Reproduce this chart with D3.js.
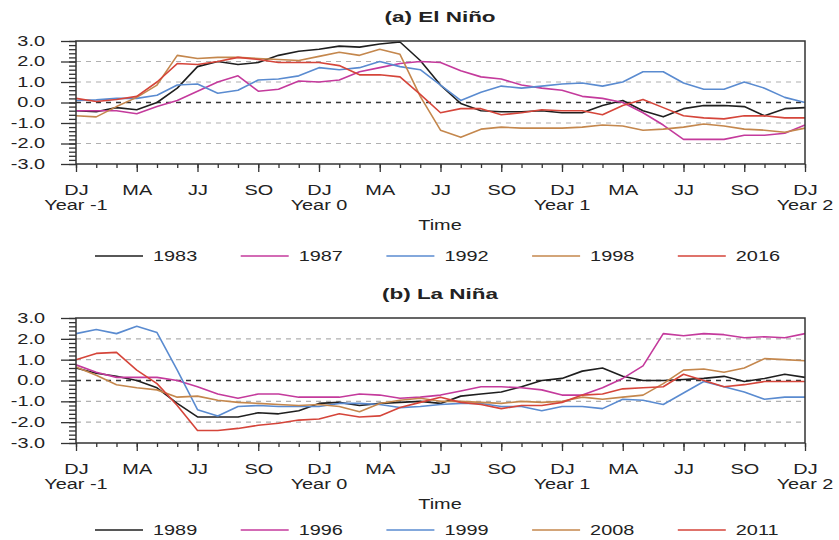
<!DOCTYPE html>
<html>
<head>
<meta charset="utf-8">
<script src="https://cdn.jsdelivr.net/npm/d3@7"></script>
<style>
  body { margin: 0; background: #fff; }
  text { font-family: "Liberation Sans", Arial, sans-serif; fill: #222; }
</style>
</head>
<body>
<svg id="chart" width="839" height="540"></svg>
<script>
// x = month index from DJ Year -1 (0) to DJ Year 2 (36)
const months = d3.range(37);
const seasonLabels = ["DJ", "MA", "JJ", "SO", "DJ", "MA", "JJ", "SO", "DJ", "MA", "JJ", "SO", "DJ"];
const seasonTicks = [0, 3, 6, 9, 12, 15, 18, 21, 24, 27, 30, 33, 36];
const yearLabels = ["Year -1", "Year 0", "Year 1", "Year 2"];
const yearTicks = [0, 12, 24, 36];
const yTicks = [-3, -2, -1, 0, 1, 2, 3];

const seriesColors = ["#1f1f1f", "#c43a9c", "#5a8bd0", "#c4874d", "#d5453a"];

// (a) El Nino
const ninoYears = ["1983", "1987", "1992", "1998", "2016"];
const nino1983 = [-0.4, -0.45, -0.25, -0.35, 0.0, 0.7, 1.75, 2.0, 1.85, 1.95, 2.3, 2.5, 2.6, 2.75, 2.7, 2.85, 2.95,
  2.05, 0.85, -0.05, -0.4, -0.45, -0.45, -0.4, -0.5, -0.5, -0.15, 0.1, -0.4, -0.7, -0.3, -0.15, -0.15, -0.2, -0.65, -0.3, -0.25];
const nino1987 = [-0.4, -0.4, -0.4, -0.55, -0.2, 0.1, 0.55, 1.0, 1.3, 0.55, 0.65, 1.05, 1.0, 1.1, 1.5, 1.7, 1.9,
  2.0, 1.95, 1.55, 1.25, 1.15, 0.85, 0.7, 0.6, 0.3, 0.2, 0.0, -0.5, -1.1, -1.8, -1.8, -1.8, -1.6, -1.6, -1.5, -1.1];
const nino1992 = [0.1, 0.13, 0.2, 0.2, 0.35, 0.85, 0.9, 0.45, 0.6, 1.1, 1.15, 1.3, 1.7, 1.6, 1.7, 2.0, 1.75,
  1.6, 0.85, 0.1, 0.5, 0.8, 0.7, 0.8, 0.9, 0.95, 0.8, 1.0, 1.5, 1.5, 0.95, 0.65, 0.65, 1.0, 0.7, 0.25, 0.0];
const nino1998 = [-0.65, -0.7, -0.2, 0.25, 0.85, 2.3, 2.15, 2.2, 2.2, 2.15, 2.1, 2.05, 2.25, 2.45, 2.3, 2.6, 2.35,
  0.3, -1.35, -1.7, -1.3, -1.2, -1.25, -1.25, -1.25, -1.2, -1.1, -1.15, -1.35, -1.3, -1.2, -1.05, -1.15, -1.3, -1.35, -1.45, -1.25];
const nino2016 = [0.2, 0.05, 0.15, 0.3, 1.0, 1.9, 1.85, 2.0, 2.2, 2.1, 1.95, 1.95, 1.95, 1.8, 1.35, 1.35, 1.25,
  0.4, -0.5, -0.3, -0.3, -0.6, -0.5, -0.35, -0.4, -0.4, -0.6, -0.15, 0.15, -0.25, -0.65, -0.75, -0.8, -0.65, -0.65, -0.75, -0.75];

// (b) La Nina
const ninaYears = ["1989", "1996", "1999", "2008", "2011"];
const nina1989 = [0.6, 0.35, 0.2, 0.0, -0.35, -1.1, -1.75, -1.75, -1.75, -1.55, -1.6, -1.45, -1.1, -1.05, -1.2, -1.1, -1.05,
  -1.0, -1.1, -0.75, -0.65, -0.55, -0.3, 0.0, 0.1, 0.45, 0.6, 0.2, 0.0, 0.0, 0.05, 0.1, 0.2, -0.05, 0.1, 0.3, 0.15];
const nina1996 = [0.75, 0.4, 0.15, 0.15, 0.15, 0.0, -0.3, -0.65, -0.85, -0.65, -0.65, -0.8, -0.8, -0.8, -0.65, -0.7, -0.85,
  -0.8, -0.7, -0.5, -0.3, -0.3, -0.35, -0.45, -0.7, -0.7, -0.35, 0.1, 0.7, 2.25, 2.15, 2.25, 2.2, 2.05, 2.1, 2.05, 2.25];
const nina1999 = [2.25, 2.45, 2.25, 2.6, 2.3, 0.5, -1.4, -1.7, -1.25, -1.2, -1.25, -1.25, -1.25, -1.1, -1.1, -1.15, -1.3,
  -1.25, -1.15, -1.1, -1.1, -1.25, -1.25, -1.45, -1.25, -1.25, -1.35, -0.9, -0.95, -1.15, -0.6, -0.05, -0.3, -0.55, -0.9, -0.8, -0.8];
const nina2008 = [0.65, 0.25, -0.2, -0.35, -0.45, -0.8, -0.75, -0.95, -1.05, -1.1, -1.15, -1.2, -1.15, -1.25, -1.5, -1.1, -0.95,
  -0.85, -1.0, -1.0, -1.05, -1.1, -1.0, -1.05, -1.0, -0.8, -0.9, -0.8, -0.7, -0.15, 0.5, 0.55, 0.4, 0.6, 1.05, 1.0, 0.95];
const nina2011 = [1.0, 1.3, 1.35, 0.5, -0.15, -1.2, -2.4, -2.4, -2.3, -2.15, -2.05, -1.9, -1.85, -1.6, -1.75, -1.7, -1.3,
  -1.05, -0.8, -1.05, -1.15, -1.35, -1.2, -1.2, -1.05, -0.7, -0.65, -0.4, -0.35, -0.3, 0.3, 0.0, -0.3, -0.2, -0.05, -0.05, -0.05];

const svg = d3.select('#chart');
const stretch = 1.42;   // the source figure is stretched sideways
const left = 76, right = 805;

const x = d3.scaleLinear().domain([0, 36]).range([left, right]);

function label(g, px, py, str, size, anchor, bold, k) {
  return g.append('text')
    .attr('transform', `translate(${px},${py}) scale(${k || stretch},1)`)
    .attr('text-anchor', anchor)
    .style('font-size', size + 'px')
    .style('font-weight', bold ? 'bold' : 'normal')
    .text(str);
}

function drawPanel(p) {
  const y = d3.scaleLinear().domain([-3, 3]).range([p.bottom, p.top]);
  const g = svg.append('g');

  label(g, 440, p.top - 19, p.title, 15, 'middle', true, 1.5);

  // grid lines
  g.selectAll('.grid').data([-2, -1, 0, 1, 2]).join('line')
    .attr('x1', left).attr('x2', right)
    .attr('y1', d => y(d)).attr('y2', d => y(d))
    .attr('stroke', d => d === 0 ? '#333' : '#b0b0b0')
    .attr('stroke-width', d => d === 0 ? 1.3 : 1.1)
    .attr('stroke-dasharray', '5,5');

  // series
  const line = d3.line().x((d, i) => x(months[i])).y(d => y(d));
  g.selectAll('.series').data(p.series).join('path')
    .attr('d', d => line(d))
    .attr('fill', 'none')
    .attr('stroke', (d, i) => seriesColors[i])
    .attr('stroke-width', 1.6)
    .attr('stroke-linejoin', 'round');

  // frame
  g.append('rect')
    .attr('x', left).attr('y', p.top)
    .attr('width', right - left).attr('height', p.bottom - p.top)
    .attr('fill', 'none').attr('stroke', '#333').attr('stroke-width', 1.5);

  // y axis, minor + major
  const yMinor = g.append('g').attr('transform', `translate(${left},0)`)
    .call(d3.axisLeft(y).tickValues(d3.range(-30, 31, 2).map(v => v / 10)).tickSize(7).tickSizeOuter(0).tickFormat(''));
  const yMajor = g.append('g').attr('transform', `translate(${left},0)`)
    .call(d3.axisLeft(y).tickValues(yTicks).tickSize(15).tickSizeOuter(0).tickFormat(d => d.toFixed(1)));
  [yMinor, yMajor].forEach(a => {
    a.select('.domain').remove();
    a.selectAll('line').attr('stroke', '#333').attr('stroke-width', 1.3);
  });
  yMajor.selectAll('text')
    .attr('x', -31 / stretch)
    .attr('transform', `scale(${stretch},1)`)
    .style('font-size', '14px').style('font-family', '"Liberation Sans", Arial, sans-serif').attr('fill', '#222');

  // x axis, minor + major
  const xMinor = g.append('g').attr('transform', `translate(0,${p.bottom})`)
    .call(d3.axisBottom(x).tickValues(months).tickSize(4).tickSizeOuter(0).tickFormat(''));
  const xMajor = g.append('g').attr('transform', `translate(0,${p.bottom})`)
    .call(d3.axisBottom(x).tickValues(seasonTicks).tickSize(8).tickSizeOuter(0).tickFormat((d, i) => seasonLabels[i]));
  [xMinor, xMajor].forEach(a => {
    a.select('.domain').remove();
    a.selectAll('line').attr('stroke', '#333').attr('stroke-width', 1.3);
  });
  xMajor.selectAll('text')
    .attr('y', 0).attr('dy', 0)
    .attr('transform', `translate(0,${p.tickBase - p.bottom}) scale(${stretch},1)`)
    .style('font-size', '14px').style('font-family', '"Liberation Sans", Arial, sans-serif').attr('fill', '#222');

  yearTicks.forEach((t, i) => label(g, x(t), p.tickBase + 15, yearLabels[i], 14, 'middle'));
  label(g, 440, p.tickBase + 35, 'Time', 14, 'middle');

  // legend
  p.years.forEach((yr, i) => {
    const lx = 95 + i * 145.7;
    g.append('line')
      .attr('x1', lx).attr('x2', lx + 48)
      .attr('y1', p.legendY).attr('y2', p.legendY)
      .attr('stroke', seriesColors[i]).attr('stroke-width', 1.3);
    label(g, lx + 58, p.legendY + 5, yr, 14, 'start');
  });
}

drawPanel({
  title: '(a) El Niño', top: 41, bottom: 164, tickBase: 195, legendY: 256,
  years: ninoYears, series: [nino1983, nino1987, nino1992, nino1998, nino2016]
});
drawPanel({
  title: '(b) La Niña', top: 318, bottom: 443, tickBase: 474, legendY: 530,
  years: ninaYears, series: [nina1989, nina1996, nina1999, nina2008, nina2011]
});
</script>
</body>
</html>
